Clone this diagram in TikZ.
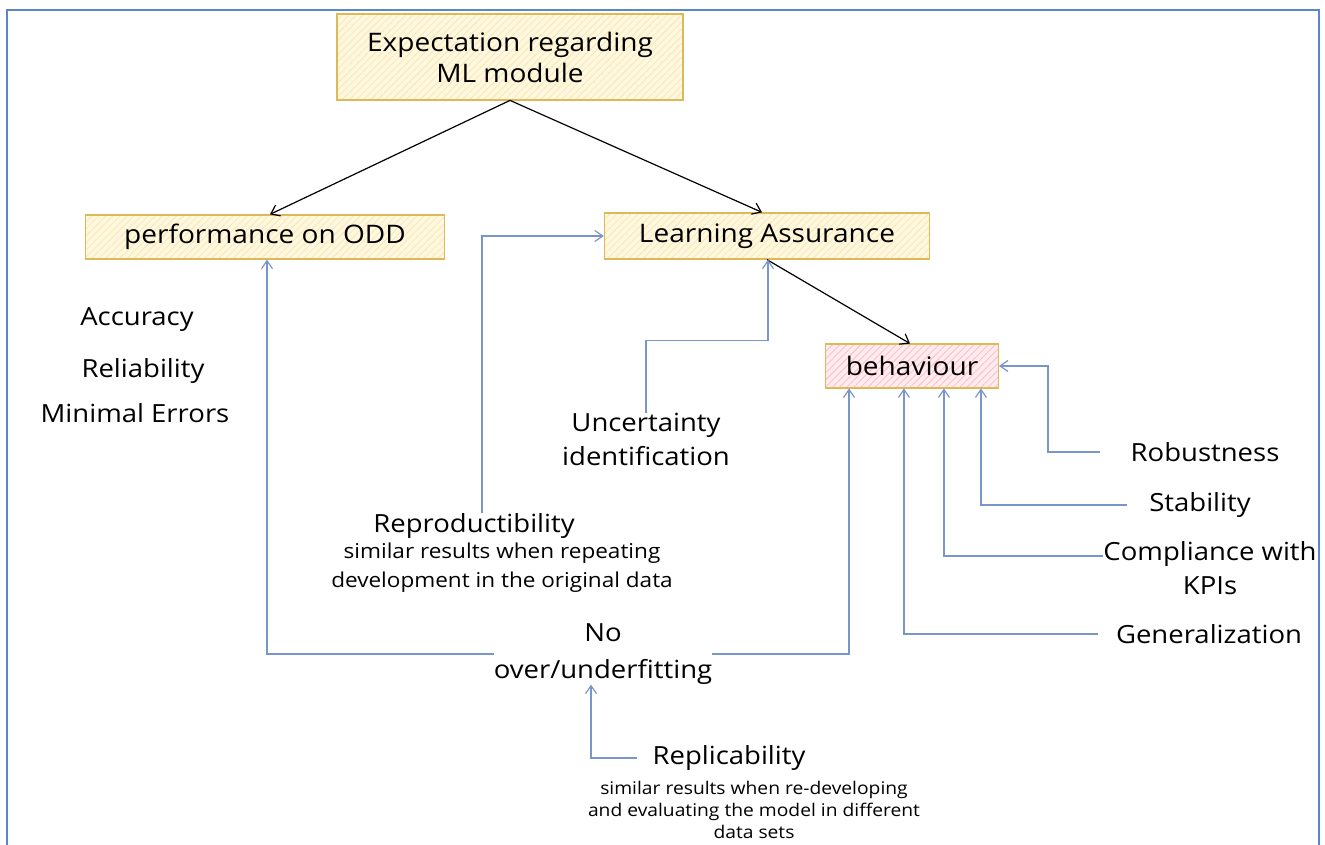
\documentclass[tikz,border=0pt]{standalone}
\usepackage{fontspec}
\setmainfont[FakeStretch=1.1]{Open Sans}
\usetikzlibrary{arrows.meta,patterns.meta,calc}
\definecolor{frameblue}{HTML}{5B87C9}
\definecolor{linkblue}{HTML}{7895CC}
\definecolor{ybord}{HTML}{DDB95A}
\definecolor{yfill}{HTML}{FFF8E1}
\definecolor{yhatch}{HTML}{FBE6AE}
\definecolor{pfill}{HTML}{FFECEF}
\definecolor{phatch}{HTML}{FFBFCB}
\begin{document}
\begin{tikzpicture}[x=1pt,y=-1pt,
  ybox/.style={draw=ybord, line width=1.3pt, preaction={fill=yfill},
    pattern={Lines[angle=45,distance=5pt,line width=0.8pt]}, pattern color=yhatch,
    inner sep=0pt, align=center, font=\fontsize{25.5}{31}\selectfont},
  pbox/.style={draw=ybord, line width=1.3pt, preaction={fill=pfill},
    pattern={Lines[angle=45,distance=5pt,line width=0.9pt]}, pattern color=phatch,
    inner sep=0pt, align=center, font=\fontsize{25.5}{31}\selectfont},
  lbl/.style={inner sep=0pt, align=center, font=\fontsize{25}{34}\selectfont},
  sublbl/.style={inner sep=0pt, align=center, font=\fontsize{20.5}{29}\selectfont},
  subsm/.style={inner sep=0pt, align=center, font=\fontsize{17.5}{22}\selectfont},
  blink/.style={draw=linkblue, line width=1.2pt, -{Straight Barb[length=8pt,width=11pt]}},
  klink/.style={draw=black, line width=1.2pt, -{Straight Barb[length=8pt,width=12pt]}}]
\useasboundingbox (0,0) rectangle (1325,845);
\draw[frameblue, line width=2pt] (7,10) rectangle (1319,870);

% boxes
\node[ybox, minimum width=346, minimum height=86] (top) at (510,57) {Expectation regarding\\ML module};
\node[ybox, minimum width=359, minimum height=44] (perf) at (265,237) {performance on ODD};
\node[ybox, minimum width=325, minimum height=46] (la) at (767,236) {Learning Assurance};
\node[pbox, minimum width=173, minimum height=44] (beh) at (912,366) {behaviour};

% labels
\node[lbl] (acc) at (137,320) {Accuracy};
\node[lbl] (rel) at (143,371) {Reliability};
\node[lbl] (mine) at (135,413) {Minimal Errors};
\node[lbl] (unc) at (646,439) {Uncertainty\\identification};
\node[lbl] (rept) at (474,526) {Reproductibility};
\node[sublbl] (reps) at (502,568) {similar results when repeating\\development in the original data};
\node[lbl, font=\fontsize{25}{37}\selectfont] (nof) at (603,654) {No\\over/underfitting};
\node[lbl] (rob) at (1205,452) {Robustness};
\node[lbl] (stab) at (1200,505) {Stability};
\node[lbl] (comp) at (1210,568) {Compliance with\\KPIs};
\node[lbl] (gen) at (1209,634) {Generalization};
\node[lbl] (repl) at (729,758) {Replicability};
\node[subsm] (repls) at (754,810) {similar results when re-developing\\and evaluating the model in different\\data sets};

% black connectors
\draw[klink] (top.south) -- ([xshift=5]perf.north);
\draw[klink] (top.south) -- ([xshift=-5]la.north);
\draw[klink] (la.south) -- ([xshift=-2]beh.north);

% blue connectors
\draw[blink] (nof.west) -| ([xshift=2]perf.south);
\draw[blink] (nof.east) -| ([xshift=24]beh.south west);
\draw[blink] ([xshift=8]rept.north) |- (la.west);
\draw[blink] (unc.north) |- ($(la.south)+(1,81)$) -- ([xshift=1]la.south);
\draw[blink, shorten <=30] (rob.west) -- ([xshift=49]beh.east |- rob.west) |- (beh.east);
\draw[blink, shorten <=22] (stab.west) -| ([xshift=-18]beh.south east);
\draw[blink] ([yshift=12]comp.west) -| ([xshift=-55]beh.south east);
\draw[blink, shorten <=18] (gen.west) -| ([xshift=-95]beh.south east);
\draw[blink, shorten <=15] (repl.west) -| ([xshift=-12]nof.south);
\end{tikzpicture}
\end{document}
